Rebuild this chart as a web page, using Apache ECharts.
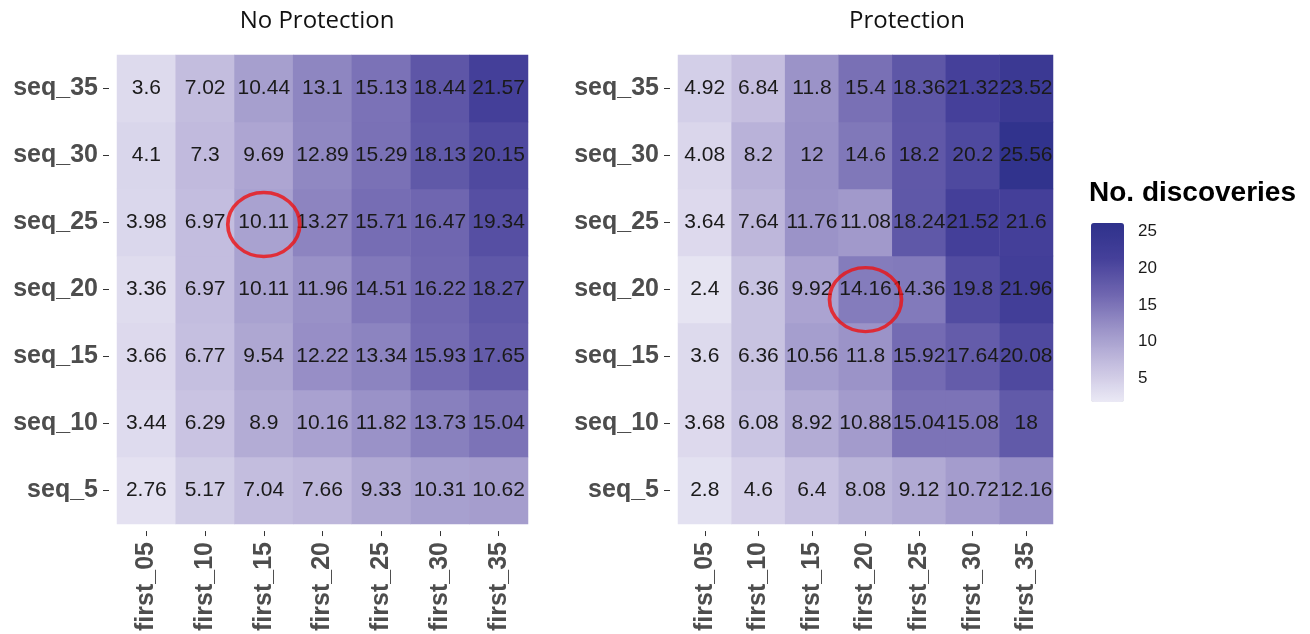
<!DOCTYPE html>
<html>
<head>
<meta charset="utf-8">
<script src="https://cdn.jsdelivr.net/npm/echarts@6/dist/echarts.min.js"></script>
<style>
  html, body { margin: 0; padding: 0; background: #fff; }
  #chart { width: 1310px; height: 634px; }
</style>
</head>
<body>
<div id="chart"></div>
<script>
// categories
const firstCats = ["first_05", "first_10", "first_15", "first_20", "first_25", "first_30", "first_35"];
const seqCats = ["seq_5", "seq_10", "seq_15", "seq_20", "seq_25", "seq_30", "seq_35"];

// rows listed bottom (seq_5) to top (seq_35), columns first_05 .. first_35
const noProtection = [
  [2.76, 5.17, 7.04, 7.66, 9.33, 10.31, 10.62],
  [3.44, 6.29, 8.9, 10.16, 11.82, 13.73, 15.04],
  [3.66, 6.77, 9.54, 12.22, 13.34, 15.93, 17.65],
  [3.36, 6.97, 10.11, 11.96, 14.51, 16.22, 18.27],
  [3.98, 6.97, 10.11, 13.27, 15.71, 16.47, 19.34],
  [4.1, 7.3, 9.69, 12.89, 15.29, 18.13, 20.15],
  [3.6, 7.02, 10.44, 13.1, 15.13, 18.44, 21.57]
];
const protection = [
  [2.8, 4.6, 6.4, 8.08, 9.12, 10.72, 12.16],
  [3.68, 6.08, 8.92, 10.88, 15.04, 15.08, 18],
  [3.6, 6.36, 10.56, 11.8, 15.92, 17.64, 20.08],
  [2.4, 6.36, 9.92, 14.16, 14.36, 19.8, 21.96],
  [3.64, 7.64, 11.76, 11.08, 18.24, 21.52, 21.6],
  [4.08, 8.2, 12, 14.6, 18.2, 20.2, 25.56],
  [4.92, 6.84, 11.8, 15.4, 18.36, 21.32, 23.52]
];

// highlighted cells [first, seq]
const circledLeft = [["first_15", "seq_25"]];
const circledRight = [["first_20", "seq_20"]];

// colour bar
const legendTicks = [5, 10, 15, 20, 25];
const legendMin = 1.79;
const legendMax = 26.17;

function toCells(rows) {
  const out = [];
  rows.forEach((row, r) => row.forEach((v, c) => out.push([c, r, v])));
  return out;
}

const labelFont = "'Liberation Sans', Arial, sans-serif";

function catX(idx) {
  return {
    type: "category", gridIndex: idx, data: firstCats,
    axisLine: { show: false },
    axisTick: { show: true, length: 5, alignWithLabel: true, lineStyle: { color: "#333" } },
    offset: 7,
    axisLabel: { rotate: 90, margin: 11, color: "#4d4d4d", fontWeight: "bold", fontSize: 25, fontFamily: labelFont }
  };
}
function catY(idx) {
  return {
    type: "category", gridIndex: idx, data: seqCats,
    axisLine: { show: false },
    axisTick: { show: true, length: 6, alignWithLabel: true, lineStyle: { color: "#333" } },
    offset: 8,
    axisLabel: { margin: 11, color: "#4d4d4d", fontWeight: "bold", fontSize: 25, fontFamily: labelFont }
  };
}
function heat(idx, rows) {
  return {
    type: "heatmap", xAxisIndex: idx, yAxisIndex: idx,
    data: toCells(rows),
    label: {
      show: true, color: "#1a1a1a", fontSize: 21, fontFamily: labelFont,
      formatter: p => String(p.value[2])
    },
    itemStyle: { borderWidth: 0 },
    emphasis: { disabled: true }
  };
}
function ring(idx, pts, offsetY) {
  return {
    type: "scatter", xAxisIndex: idx, yAxisIndex: idx, z: 5,
    data: pts,
    symbol: "circle", symbolSize: [72, 64], symbolOffset: [0, offsetY],
    itemStyle: { color: "rgba(0,0,0,0)", borderColor: "#ee1111", borderWidth: 3.5 },
    silent: true
  };
}

const chart = echarts.init(document.getElementById("chart"));
chart.setOption({
  animation: false,
  backgroundColor: "#fff",
  grid: [
    { left: 117, top: 55, width: 411, height: 471 },
    { left: 678, top: 55, width: 375, height: 471 },
    { left: 1091, top: 223, width: 33, height: 179 }
  ],
  xAxis: [
    catX(0), catX(1),
    { type: "value", gridIndex: 2, show: false, min: 0, max: 1 }
  ],
  yAxis: [
    catY(0), catY(1),
    {
      type: "value", gridIndex: 2, position: "left", min: legendMin, max: legendMax,
      axisLine: { show: false }, splitLine: { show: false },
      axisTick: { inside: true, length: 6, customValues: legendTicks, lineStyle: { color: "#fff", width: 1 } },
      axisLabel: { show: false }
    },
    {
      type: "value", gridIndex: 2, position: "right", min: legendMin, max: legendMax,
      axisLine: { show: false }, splitLine: { show: false },
      axisTick: { inside: true, length: 6, customValues: legendTicks, lineStyle: { color: "#fff", width: 1 } },
      axisLabel: { customValues: legendTicks, margin: 14, color: "#1a1a1a", fontSize: 17, fontFamily: labelFont }
    }
  ],
  visualMap: {
    type: "continuous", seriesIndex: [0, 1],
    min: legendMin, max: legendMax, calculable: false,
    left: 1091, top: 223, itemWidth: 33, itemHeight: 179, padding: 0,
    text: null, showLabel: false,
    inRange: { color: ["#ebe9f5", "#c6c0e0", "#9d95c9", "#6f66b0", "#45409a", "#2e318b"] }
  },
  series: [
    heat(0, noProtection),
    heat(1, protection),
    ring(0, circledLeft, 2),
    ring(1, circledRight, 10)
  ],
  graphic: [
    { type: "text", x: 317, y: 21, style: { text: "No Protection", fill: "#111", font: "24px 'Open Sans', sans-serif", align: "center", verticalAlign: "middle" } },
    { type: "text", x: 907, y: 21, style: { text: "Protection", fill: "#111", font: "24px 'Open Sans', sans-serif", align: "center", verticalAlign: "middle" } },
    { type: "text", left: 1089, top: 179, style: { text: "No. discoveries", fill: "#000", font: "bold 28px 'Liberation Sans', Arial, sans-serif" } }
  ]
});
</script>
</body>
</html>
